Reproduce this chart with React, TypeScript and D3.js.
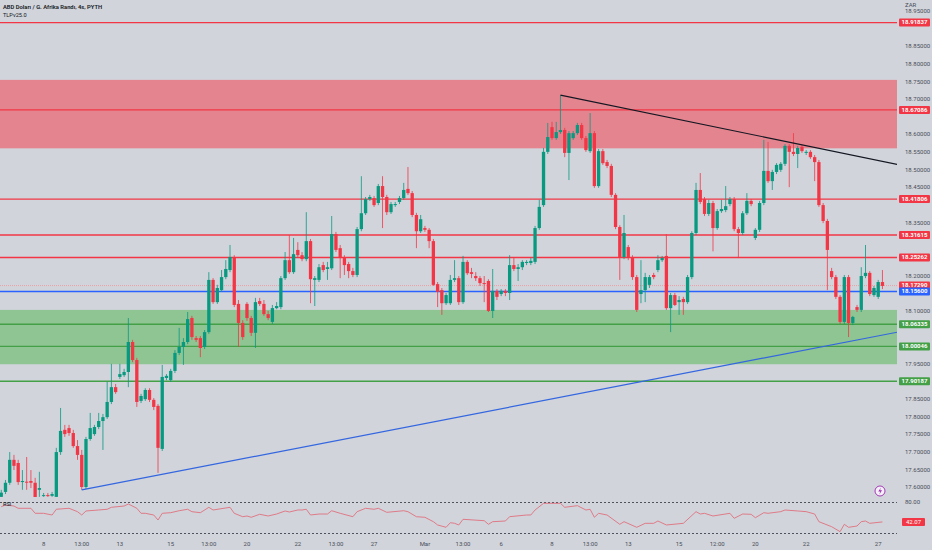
import React from "react";
import * as d3 from "d3";

// 4h candles, [open, high, low, close]
const candles: [number, number, number, number][] = [
  [17.574, 17.594, 17.568, 17.586], [17.588, 17.622, 17.582, 17.614], [17.614, 17.701, 17.608, 17.679],
  [17.679, 17.693, 17.65, 17.662], [17.67, 17.679, 17.608, 17.616], [17.616, 17.65, 17.594, 17.619],
  [17.617, 17.687, 17.594, 17.615], [17.619, 17.65, 17.599, 17.614], [17.614, 17.628, 17.568, 17.571],
  [17.594, 17.645, 17.574, 17.599], [17.577, 17.585, 17.574, 17.579], [17.579, 17.585, 17.574, 17.577],
  [17.577, 17.588, 17.574, 17.582], [17.574, 17.713, 17.571, 17.701], [17.701, 17.826, 17.693, 17.761],
  [17.764, 17.778, 17.744, 17.752], [17.769, 17.778, 17.747, 17.755], [17.755, 17.764, 17.713, 17.718],
  [17.718, 17.735, 17.679, 17.693], [17.693, 17.707, 17.594, 17.602], [17.602, 17.744, 17.596, 17.738],
  [17.738, 17.812, 17.733, 17.769], [17.752, 17.778, 17.747, 17.772], [17.772, 17.812, 17.766, 17.789],
  [17.789, 17.809, 17.707, 17.8], [17.8, 17.9, 17.795, 17.843], [17.843, 17.951, 17.837, 17.885],
  [17.885, 17.894, 17.866, 17.871], [17.914, 17.951, 17.908, 17.922], [17.919, 17.937, 17.914, 17.928],
  [17.928, 18.081, 17.885, 18.013], [18.013, 18.019, 17.956, 17.962], [17.962, 17.968, 17.829, 17.843],
  [17.846, 17.866, 17.84, 17.86], [17.851, 17.882, 17.846, 17.877], [17.877, 17.882, 17.843, 17.849],
  [17.849, 17.854, 17.82, 17.829], [17.832, 17.837, 17.642, 17.713], [17.71, 17.948, 17.704, 17.914],
  [17.911, 17.922, 17.905, 17.917], [17.905, 17.937, 17.9, 17.931], [17.931, 17.99, 17.925, 17.982],
  [17.982, 18.053, 17.976, 17.999], [17.999, 18.024, 17.948, 18.013], [18.013, 18.098, 18.007, 18.078],
  [18.081, 18.087, 18.019, 18.027], [18.024, 18.03, 18.013, 18.019], [18.024, 18.03, 17.97, 17.996],
  [17.999, 18.047, 17.993, 18.041], [18.041, 18.211, 18.036, 18.189], [18.189, 18.194, 18.121, 18.126],
  [18.126, 18.175, 18.121, 18.166], [18.16, 18.217, 18.155, 18.197], [18.197, 18.245, 18.191, 18.22],
  [18.217, 18.288, 18.211, 18.254], [18.254, 18.259, 18.112, 18.118], [18.121, 18.132, 17.999, 18.067],
  [18.067, 18.075, 18.019, 18.027], [18.121, 18.126, 18.073, 18.081], [18.081, 18.087, 18.03, 18.039],
  [18.039, 18.138, 17.996, 18.126], [18.129, 18.138, 18.115, 18.121], [18.121, 18.132, 18.087, 18.092],
  [18.092, 18.101, 18.075, 18.081], [18.07, 18.118, 18.064, 18.109], [18.109, 18.126, 18.106, 18.115],
  [18.112, 18.2, 18.106, 18.194], [18.194, 18.268, 18.189, 18.245], [18.245, 18.316, 18.206, 18.211],
  [18.211, 18.308, 18.206, 18.262], [18.274, 18.296, 18.254, 18.259], [18.259, 18.268, 18.242, 18.248],
  [18.248, 18.381, 18.242, 18.299], [18.299, 18.305, 18.123, 18.191], [18.189, 18.2, 18.115, 18.194],
  [18.189, 18.234, 18.183, 18.225], [18.231, 18.24, 18.211, 18.217], [18.22, 18.24, 18.189, 18.225],
  [18.222, 18.37, 18.217, 18.319], [18.319, 18.325, 18.268, 18.274], [18.279, 18.288, 18.194, 18.251],
  [18.251, 18.259, 18.203, 18.231], [18.234, 18.24, 18.194, 18.214], [18.214, 18.223, 18.197, 18.203],
  [18.203, 18.339, 18.197, 18.333], [18.333, 18.483, 18.327, 18.378], [18.378, 18.424, 18.373, 18.418],
  [18.418, 18.43, 18.413, 18.424], [18.421, 18.427, 18.396, 18.401], [18.407, 18.461, 18.401, 18.455],
  [18.455, 18.483, 18.336, 18.424], [18.424, 18.43, 18.373, 18.381], [18.381, 18.41, 18.376, 18.404],
  [18.401, 18.41, 18.396, 18.404], [18.41, 18.427, 18.404, 18.421], [18.421, 18.464, 18.416, 18.444],
  [18.447, 18.509, 18.43, 18.435], [18.435, 18.441, 18.367, 18.373], [18.373, 18.379, 18.279, 18.327],
  [18.327, 18.373, 18.322, 18.361], [18.336, 18.342, 18.325, 18.331], [18.331, 18.336, 18.279, 18.299],
  [18.299, 18.305, 18.172, 18.175], [18.177, 18.183, 18.112, 18.155], [18.16, 18.166, 18.09, 18.123],
  [18.123, 18.152, 18.118, 18.146], [18.123, 18.203, 18.118, 18.189], [18.189, 18.245, 18.183, 18.194],
  [18.194, 18.2, 18.118, 18.126], [18.126, 18.257, 18.121, 18.24], [18.24, 18.245, 18.203, 18.208],
  [18.211, 18.223, 18.194, 18.206], [18.2, 18.211, 18.186, 18.194], [18.194, 18.2, 18.172, 18.18],
  [18.18, 18.2, 18.126, 18.179], [18.186, 18.191, 18.098, 18.101], [18.101, 18.22, 18.081, 18.158],
  [18.158, 18.163, 18.132, 18.141], [18.149, 18.163, 18.143, 18.158], [18.158, 18.163, 18.143, 18.152],
  [18.152, 18.259, 18.132, 18.231], [18.231, 18.251, 18.214, 18.22], [18.22, 18.234, 18.186, 18.225],
  [18.225, 18.245, 18.217, 18.24], [18.237, 18.245, 18.231, 18.24], [18.237, 18.251, 18.231, 18.243],
  [18.24, 18.342, 18.234, 18.336], [18.336, 18.416, 18.331, 18.396], [18.401, 18.563, 18.396, 18.552],
  [18.552, 18.634, 18.546, 18.594], [18.622, 18.637, 18.586, 18.591], [18.591, 18.637, 18.586, 18.608],
  [18.608, 18.713, 18.603, 18.614], [18.614, 18.62, 18.537, 18.549], [18.549, 18.611, 18.472, 18.605],
  [18.591, 18.611, 18.586, 18.605], [18.605, 18.634, 18.6, 18.628], [18.628, 18.634, 18.586, 18.591],
  [18.591, 18.597, 18.552, 18.557], [18.554, 18.662, 18.549, 18.605], [18.605, 18.611, 18.45, 18.455],
  [18.455, 18.56, 18.45, 18.554], [18.554, 18.56, 18.515, 18.52], [18.523, 18.529, 18.506, 18.512],
  [18.512, 18.518, 18.424, 18.43], [18.43, 18.435, 18.333, 18.339], [18.339, 18.344, 18.189, 18.254],
  [18.254, 18.373, 18.248, 18.322], [18.282, 18.288, 18.245, 18.254], [18.254, 18.259, 18.189, 18.197],
  [18.197, 18.203, 18.098, 18.104], [18.149, 18.245, 18.123, 18.16], [18.16, 18.209, 18.126, 18.197],
  [18.175, 18.203, 18.166, 18.197], [18.203, 18.209, 18.191, 18.197], [18.217, 18.259, 18.211, 18.245],
  [18.245, 18.257, 18.24, 18.251], [18.257, 18.319, 18.104, 18.109], [18.109, 18.152, 18.041, 18.146],
  [18.146, 18.152, 18.115, 18.118], [18.126, 18.143, 18.09, 18.132], [18.135, 18.141, 18.09, 18.126],
  [18.126, 18.203, 18.121, 18.197], [18.197, 18.327, 18.191, 18.322], [18.322, 18.464, 18.316, 18.444],
  [18.444, 18.492, 18.404, 18.41], [18.418, 18.424, 18.37, 18.376], [18.376, 18.416, 18.37, 18.407],
  [18.407, 18.413, 18.27, 18.336], [18.336, 18.39, 18.331, 18.384], [18.384, 18.416, 18.379, 18.39],
  [18.387, 18.455, 18.381, 18.398], [18.404, 18.424, 18.398, 18.418], [18.418, 18.424, 18.327, 18.333],
  [18.333, 18.339, 18.251, 18.322], [18.322, 18.384, 18.316, 18.378], [18.378, 18.435, 18.373, 18.413],
  [18.413, 18.418, 18.398, 18.404], [18.308, 18.336, 18.302, 18.331], [18.331, 18.413, 18.325, 18.407],
  [18.407, 18.586, 18.401, 18.498], [18.498, 18.58, 18.464, 18.469], [18.469, 18.501, 18.444, 18.495],
  [18.495, 18.52, 18.489, 18.515], [18.501, 18.523, 18.495, 18.518], [18.518, 18.574, 18.512, 18.569],
  [18.569, 18.574, 18.452, 18.552], [18.552, 18.605, 18.54, 18.546], [18.546, 18.569, 18.506, 18.563],
  [18.566, 18.572, 18.549, 18.554], [18.549, 18.557, 18.543, 18.552], [18.552, 18.557, 18.532, 18.537],
  [18.537, 18.543, 18.469, 18.523], [18.523, 18.529, 18.396, 18.401], [18.401, 18.407, 18.35, 18.356],
  [18.356, 18.362, 18.16, 18.274], [18.214, 18.223, 18.191, 18.197], [18.197, 18.203, 18.135, 18.141],
  [18.141, 18.146, 18.064, 18.07], [18.07, 18.203, 18.064, 18.197], [18.197, 18.203, 18.027, 18.067],
  [18.067, 18.087, 18.061, 18.084], [18.112, 18.118, 18.098, 18.104], [18.104, 18.225, 18.098, 18.2],
  [18.2, 18.288, 18.194, 18.209], [18.209, 18.214, 18.143, 18.149], [18.146, 18.172, 18.141, 18.166],
  [18.141, 18.189, 18.135, 18.183], [18.183, 18.217, 18.163, 18.172],
];

// RSI readings [candle index, value]
const rsi: [number, number][] = [
  [0, 71.5], [1, 74.8], [3, 72.8], [4, 68.4], [7, 68.4], [8, 58.7], [10, 58.7], [12, 55.4], [13, 66.5],
  [16, 68.4], [18, 61.8], [19, 55.4], [20, 63.2], [23, 65.1], [25, 66.5], [26, 70.3], [29, 72.8], [30, 76.7],
  [32, 68.4], [33, 58.7], [34, 58.7], [36, 55.4], [37, 45.7], [38, 58.7], [40, 59.9], [42, 63.7], [44, 66.5],
  [45, 61.8], [47, 59.9], [49, 70.3], [50, 65.1], [54, 70.3], [55, 58.7], [57, 52.1], [58, 53.5], [59, 51.0],
  [61, 56.8], [63, 53.5], [65, 57.3], [67, 63.2], [68, 61.2], [70, 65.1], [71, 65.1], [72, 66.5], [73, 55.4],
  [75, 57.3], [77, 57.3], [78, 63.7], [80, 58.7], [83, 52.1], [84, 61.8], [86, 68.4], [88, 66.5], [89, 68.4],
  [91, 60.6], [95, 63.7], [96, 61.8], [98, 52.1], [100, 51.0], [102, 42.5], [103, 36.1], [105, 31.6],
  [106, 40.5], [107, 39.4], [108, 36.1], [109, 47.1], [114, 44.4], [115, 37.4], [116, 42.5], [119, 43.8],
  [120, 52.2], [124, 55.4], [125, 55.4], [126, 65.1], [128, 78.0], [132, 78.0], [133, 70.3], [136, 73.5],
  [138, 65.1], [139, 66.4], [140, 51.0], [141, 58.7], [143, 55.4], [146, 37.4], [147, 42.5], [150, 31.6],
  [152, 39.3], [154, 39.3], [155, 43.8], [157, 36.1], [161, 39.3], [164, 61.9], [165, 57.3], [166, 58.7],
  [168, 53.5], [172, 58.7], [173, 49.0], [175, 57.3], [177, 56.8], [178, 50.2], [180, 59.9], [181, 58.7],
  [184, 61.9], [185, 65.1], [188, 63.2], [190, 61.9], [192, 57.3], [193, 42.5], [196, 32.8], [198, 23.2],
  [199, 37.4], [200, 31.6], [202, 34.1], [203, 42.5], [204, 43.8], [205, 39.3], [208, 42.07],
];

const redLevels = [18.91837, 18.67086, 18.41806, 18.31615, 18.25262];
const blueLevels = [18.156];
const greenLevels = [18.06335, 18.00046, 17.90187];
const lastPrice = 18.1729;
const lastRsi = 42.07;
const redZone = [18.562, 18.756];
const greenZone = [17.95, 18.104];
// trendlines: [index1, price1, index2, price2]
const blackTrend = [132, 18.713, 211.6, 18.516];
const blueTrend = [19, 17.594, 211.6, 18.041];

const xTickIdx = [10, 19, 28, 40, 49, 58, 70, 79, 88, 100, 109, 118, 130, 139, 148, 160, 169, 178, 190, 207];
const xTickText = ["8", "13:00", "13", "15", "13:00", "20", "22", "13:00", "27", "Mar", "13:00", "6", "8", "13:00", "13", "15", "12:00", "20", "22", "27"];
const priceTicks = d3.range(17.6, 18.951, 0.05);
const rsiBands = [80, 20];

const W = 932;
const H = 550;
const PLOT_R = 897;
const MAIN_B = 497;
const UP = "#089981";
const DOWN = "#f23645";
const RED = "#f23645";
const BLUE = "#2962ff";
const GREEN = "#43a047";
const FONT = "Roboto, 'Liberation Sans', sans-serif";

export default function App() {
  const n = candles.length;
  const x = d3.scaleBand<number>().domain(d3.range(n)).range([-0.4, 884.1]).paddingInner(0.22);
  const bw = x.bandwidth();
  const cx = (i: number) => (x(i) as number) + bw / 2;
  const xi = d3.scaleLinear().domain([0, n - 1]).range([cx(0), cx(n - 1)]);
  const y = d3.scaleLinear().domain([17.6, 18.75]).range([487.7, 82]);
  const ry = d3.scaleLinear().domain([20, 80]).range([533.3, 502.3]);

  const rsiLine = d3
    .line<[number, number]>()
    .x((d) => xi(d[0]))
    .y((d) => ry(d[1]));

  const badgePrices = [...redLevels, lastPrice, ...blueLevels, ...greenLevels];
  const visibleTicks = priceTicks.filter((p) => badgePrices.every((b) => Math.abs(y(b) - y(p)) > 7.5));

  const badge = (p: number, color: string, key: string) => (
    <g key={key}>
      <rect x={899} y={y(p) - 4} width={31} height={8} fill={color} rx={1} />
      <text x={914.5} y={y(p) + 0.3} fill="#fff" fontSize={6} fontWeight={700} textAnchor="middle" dominantBaseline="middle">
        {p.toFixed(5)}
      </text>
    </g>
  );

  const hLine = (p: number, color: string, key: string) => (
    <line key={key} x1={0} x2={PLOT_R} y1={y(p)} y2={y(p)} stroke={color} strokeWidth={1.4} />
  );

  return (
    <svg width={W} height={H} style={{ position: "absolute", left: 0, top: 0 }} fontFamily={FONT}>
      <rect width={W} height={H} fill="#d1d4db" />
      <defs>
        <clipPath id="main">
          <rect x={0} y={0} width={PLOT_R} height={MAIN_B} />
        </clipPath>
      </defs>

      <g clipPath="url(#main)">
        <rect x={0} y={y(redZone[1])} width={PLOT_R} height={y(redZone[0]) - y(redZone[1])} fill="#e4848f" />
        <rect x={0} y={y(greenZone[1])} width={PLOT_R} height={y(greenZone[0]) - y(greenZone[1])} fill="#8fc493" />

        {redLevels.map((p) => hLine(p, RED, "r" + p))}
        {greenLevels.map((p) => hLine(p, GREEN, "g" + p))}
        {blueLevels.map((p) => hLine(p, BLUE, "b" + p))}
        <line x1={0} x2={PLOT_R} y1={y(lastPrice)} y2={y(lastPrice)} stroke="#eaa0a8" strokeWidth={1} strokeDasharray="1,1" />

        {candles.map(([o, h, l, c], i) => {
          const col = c >= o ? UP : DOWN;
          const top = y(Math.max(o, c));
          const bh = Math.max(1, Math.abs(y(o) - y(c)));
          return (
            <g key={i}>
              <line x1={cx(i)} x2={cx(i)} y1={y(h)} y2={y(l)} stroke={col} strokeWidth={0.8} />
              <rect x={x(i)} y={top} width={bw} height={bh} fill={col} />
            </g>
          );
        })}

        <line
          x1={xi(blackTrend[0])} y1={y(blackTrend[1])} x2={xi(blackTrend[2])} y2={y(blackTrend[3])}
          stroke="#131722" strokeWidth={1.2}
        />
        <line
          x1={xi(blueTrend[0])} y1={y(blueTrend[1])} x2={xi(blueTrend[2])} y2={y(blueTrend[3])}
          stroke="#3366e0" strokeWidth={1.2}
        />
      </g>

      {/* title */}
      <text x={3} y={9} fontSize={5.8} fontWeight={600} fill="#131722">ABD Doları / G. Afrika Randı, 4s, PYTH</text>
      <text x={3} y={17} fontSize={5.6} fill="#131722">TLPv25.0</text>

      {/* price axis */}
      {visibleTicks.map((p) => (
        <text key={p.toFixed(2)} x={905} y={y(p)} fontSize={6} fill="#4a4e58" dominantBaseline="middle">
          {p.toFixed(5)}
        </text>
      ))}
      <rect x={900} y={0} width={32} height={9} fill="#d1d4db" />
      <text x={905} y={5} fontSize={6} fill="#4a4e58" dominantBaseline="middle">ZAR</text>
      {redLevels.map((p) => badge(p, RED, "rb" + p))}
      {badge(lastPrice, RED, "last")}
      {blueLevels.map((p) => badge(p, BLUE, "bb" + p))}
      {greenLevels.map((p) => badge(p, GREEN, "gb" + p))}

      {/* alert icon */}
      <circle cx={880} cy={491} r={5} fill="#f3f0f7" stroke="#9c27b0" strokeWidth={0.9} />
      <path d="M881 487.5 L878.3 491.5 L880.3 491.5 L879.3 494.5 L882 490.3 L880 490.3 Z" fill="#9c27b0" />

      {/* RSI pane */}
      {rsiBands.map((v) => (
        <line key={v} x1={0} x2={PLOT_R} y1={Math.round(ry(v)) + 0.5} y2={Math.round(ry(v)) + 0.5} stroke="#50535e" strokeWidth={1} strokeDasharray="2,2" shapeRendering="crispEdges" />
      ))}
      <path d={rsiLine(rsi) ?? ""} fill="none" stroke="#e0707e" strokeWidth={0.9} />
      <text x={3} y={506} fontSize={5.5} fill="#131722">RSI</text>
      <text x={905} y={ry(80)} fontSize={6} fill="#4a4e58" dominantBaseline="middle">80.00</text>
      <rect x={902} y={ry(lastRsi) - 4} width={23} height={8} fill={RED} rx={1} />
      <text x={913.5} y={ry(lastRsi) + 0.3} fontSize={6} fill="#fff" textAnchor="middle" dominantBaseline="middle">
        {lastRsi.toFixed(2)}
      </text>

      {/* time axis */}
      {xTickIdx.map((idx, k) => (
        <text key={k} x={cx(idx)} y={544} fontSize={6} fill="#4a4e58" textAnchor="middle" dominantBaseline="middle">
          {xTickText[k]}
        </text>
      ))}
    </svg>
  );
}
